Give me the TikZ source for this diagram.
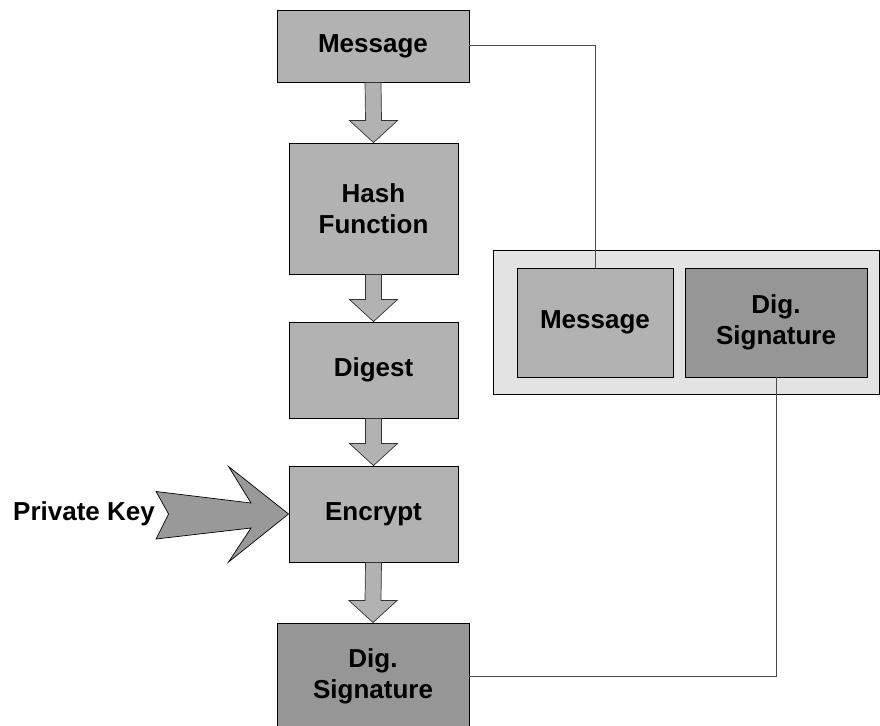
\documentclass[tikz,border=0pt]{standalone}
\usepackage{fontspec}
\setmainfont{Liberation Sans}
\usetikzlibrary{calc}
\definecolor{boxlight}{HTML}{B2B2B2}
\definecolor{boxdark}{HTML}{969696}
\definecolor{grpbg}{HTML}{E3E3E3}
\definecolor{pkfill}{HTML}{999999}
\definecolor{wire}{HTML}{4A4A4A}
\tikzset{
  box/.style={draw=black, line width=0.9pt, fill=boxlight, align=center, inner sep=0pt,
    font=\fontsize{26}{31}\selectfont\bfseries},
  darkbox/.style={box, fill=boxdark},
  grpbox/.style={draw=black, line width=0.9pt, fill=grpbg, inner sep=0pt},
  blk/.style={draw=black!80, line width=0.7pt, fill=boxlight, line join=miter},
  pkarrow/.style={draw=black, line width=0.7pt, fill=pkfill, line join=miter},
  wireline/.style={draw=wire, line width=1pt},
  lbl/.style={font=\fontsize{26}{31}\selectfont\bfseries, inner sep=0pt}
}
\newcommand{\blockdown}[2]{%
  \draw[blk] ($(#1.south)+(-8,0)$) -- ($(#2.north)+(-8,-22)$) -- ($(#2.north)+(-24,-22)$)
    -- (#2.north) -- ($(#2.north)+(24,-22)$) -- ($(#2.north)+(8,-22)$)
    -- ($(#1.south)+(8,0)$) -- cycle;}
\begin{document}
\begin{tikzpicture}[x=1pt, y=-1pt]
\useasboundingbox (0,0) rectangle (880,725);
\clip (0,0) rectangle (880,725);
\fill[white] (0,0) rectangle (880,725);

% main column
\node[box, minimum width=192, minimum height=72] (msg) at (373,46) {Message};
\node[box, minimum width=169, minimum height=131] (hash) at (373.5,208.5) {Hash\\Function};
\node[box, minimum width=169, minimum height=96] (dig) at (373.5,370) {Digest};
\node[box, minimum width=169, minimum height=96] (enc) at (373.5,514) {Encrypt};
\node[darkbox, minimum width=192, minimum height=106] (sig) at (373,676) {Dig.\\Signature};

% group on the right
\node[grpbox, minimum width=386, minimum height=144] (grp) at (686,322) {};
\node[box, minimum width=156, minimum height=109] (gmsg) at (595,322.5) {Message};
\node[darkbox, minimum width=182, minimum height=109] (gsig) at (776,322.5) {Dig.\\Signature};

% block arrows
\blockdown{msg}{hash}
\blockdown{hash}{dig}
\blockdown{dig}{enc}
\blockdown{enc}{sig}

% private key arrow
\draw[pkarrow] ($(enc.west)+(-132.5,-22.5)$) -- ($(enc.west)+(-37.5,-11)$)
  -- ($(enc.west)+(-60,-47.5)$) -- (enc.west) -- ($(enc.west)+(-60,48)$)
  -- ($(enc.west)+(-37.5,14)$) -- ($(enc.west)+(-132.5,25)$)
  -- ($(enc.west)+(-120,0)$) -- cycle;
\node[lbl, anchor=east] (pk) at (155,514) {Private Key};

% connectors
\draw[wireline] (msg.east) -| (gmsg.north);
\draw[wireline] (sig.east) -| (gsig.south);
\end{tikzpicture}
\end{document}
